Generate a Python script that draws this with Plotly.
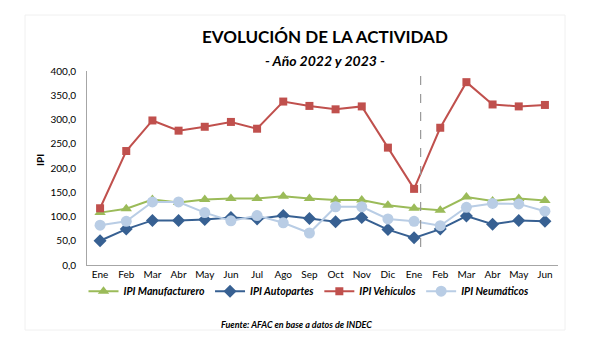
import plotly.graph_objects as go

months = ["Ene", "Feb", "Mar", "Abr", "May", "Jun", "Jul", "Ago", "Sep", "Oct", "Nov", "Dic",
          "Ene", "Feb", "Mar", "Abr", "May", "Jun"]
ipi_manufacturero = [108, 116, 135, 129, 135, 137, 137, 142, 137, 134, 134, 123, 117, 113, 140, 132, 137, 133]
ipi_autopartes = [50, 74, 92, 92, 94, 98, 95, 102, 96, 89, 98, 73, 56, 74, 101, 84, 92, 90]
ipi_vehiculos = [117, 235, 298, 277, 285, 295, 281, 337, 328, 321, 327, 242, 157, 283, 377, 331, 327, 330]
ipi_neumaticos = [82, 90, 130, 130, 108, 91, 102, 87, 66, 120, 120, 95, 90, 81, 119, 127, 126, 111]
y_ticks = [0, 50, 100, 150, 200, 250, 300, 350, 400]

x = list(range(len(months)))
FONT = "Lato, 'Open Sans', sans-serif"

series = [
    ("IPI Manufacturero", ipi_manufacturero, "#9BBB59", "triangle-up", 10),
    ("IPI Autopartes", ipi_autopartes, "#376092", "diamond", 10),
    ("IPI Vehículos", ipi_vehiculos, "#C0504D", "square", 8),
    ("IPI Neumáticos", ipi_neumaticos, "#B9CDE5", "circle", 11),
]

fig = go.Figure()
for name, vals, col, sym, sz in series:
    fig.add_trace(go.Scatter(
        x=x, y=vals, name=name, mode="lines+markers",
        line=dict(color=col, width=2),
        marker=dict(symbol=sym, size=sz, color=col, line=dict(width=0)),
    ))

fig.update_layout(
    width=600, height=341,
    margin=dict(l=87, r=42, t=71, b=76),
    paper_bgcolor="white", plot_bgcolor="white",
    font=dict(family=FONT, size=10, color="#000000"),
    showlegend=True,
    legend=dict(
        orientation="h", x=(309 - 87) / 471, xanchor="center", y=-0.135, yanchor="middle",
        font=dict(family=FONT, size=10.5, style="italic", weight="bold"),
        itemwidth=30, tracegroupgap=0, bgcolor="rgba(0,0,0,0)",
    ),
    xaxis=dict(
        range=[-0.5, len(months) - 0.5], tickmode="array", tickvals=x, ticktext=months,
        showgrid=False, zeroline=False, showline=True, linecolor="#A6A6A6", linewidth=1,
        ticks="", tickfont=dict(size=10, family=FONT),
    ),
    yaxis=dict(
        range=[0, 400], tickmode="array", tickvals=y_ticks,
        ticktext=[f"{v:.1f}".replace(".", ",") for v in y_ticks],
        showgrid=False, zeroline=False, showline=True, linecolor="#A6A6A6", linewidth=1,
        ticks="", tickfont=dict(size=10, family=FONT), ticklabelstandoff=8,
    ),
    shapes=[
        dict(type="line", xref="x", yref="paper", x0=12.25, x1=12.25, y0=0.093, y1=1.02,
             line=dict(color="#999999", width=1.2, dash="dash")),
        dict(type="rect", xref="paper", yref="paper", x0=-62 / 471, x1=478 / 471,
             y0=-65 / 194, y1=1 + 56 / 194, line=dict(color="#F0F0F0", width=1), layer="below"),
    ],
    annotations=[
        dict(text="<b>EVOLUCIÓN DE LA ACTIVIDAD</b>", xref="paper", yref="paper",
             x=(325 - 87) / 471, y=1 + 34 / 194, xanchor="center", yanchor="middle", showarrow=False,
             font=dict(family=FONT, size=17, color="#000000")),
        dict(text="<b><i>- Año 2022 y 2023 -</i></b>", xref="paper", yref="paper",
             x=(325 - 87) / 471, y=1 + 11 / 194, xanchor="center", yanchor="middle", showarrow=False,
             font=dict(family=FONT, size=14, color="#000000")),
        dict(text="<b>IPI</b>", xref="paper", yref="paper", x=-47 / 471, y=(265 - 160) / 194,
             xanchor="center", yanchor="middle", showarrow=False, textangle=-90,
             font=dict(family=FONT, size=10, color="#000000")),
        dict(text="<b><i>Fuente: AFAC en base a datos de INDEC</i></b>", xref="paper", yref="paper",
             x=(296 - 87) / 471, y=-(324 - 265) / 194, xanchor="center", yanchor="middle",
             showarrow=False, font=dict(family=FONT, size=9, color="#000000")),
    ],
)

fig.write_html("out.html")
